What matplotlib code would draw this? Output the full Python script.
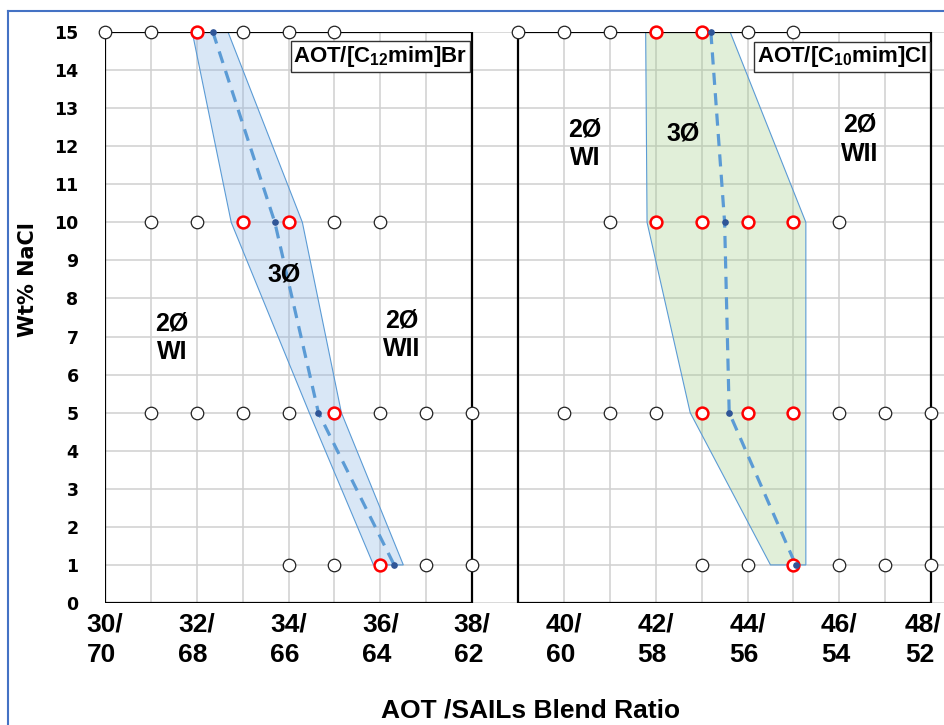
import matplotlib
matplotlib.use("Agg")
import matplotlib.pyplot as plt
import matplotlib.transforms as mtransforms
from matplotlib.patches import Polygon, Rectangle
from matplotlib.lines import Line2D

plt.rcParams['mathtext.fontset'] = 'custom'
plt.rcParams['mathtext.rm'] = 'Liberation Sans:bold'
plt.rcParams['mathtext.it'] = 'Liberation Sans:bold'
plt.rcParams['mathtext.bf'] = 'Liberation Sans:bold'
plt.rcParams['mathtext.default'] = 'rm'

# ---- data ----
x_ticks = list(range(30, 49))
x_ticklabels = ["30/\n70", "", "32/\n68", "", "34/\n66", "", "36/\n64", "", "38/\n62", "",
                "40/\n60", "", "42/\n58", "", "44/\n56", "", "46/\n54", "", "48/\n52"]
y_ticks = list(range(0, 16))

# AOT/[C12mim]Br panel
br_white_x = [30, 31, 33, 34, 35, 31, 32, 35, 36, 31, 32, 33, 34, 36, 37, 38, 34, 35, 37, 38]
br_white_y = [15, 15, 15, 15, 15, 10, 10, 10, 10, 5, 5, 5, 5, 5, 5, 5, 1, 1, 1, 1]
br_red_x = [32, 33, 34, 35, 36]
br_red_y = [15, 10, 10, 5, 1]
br_mid_x = [32.35, 33.7, 34.65, 36.3]
br_mid_y = [15, 10, 5, 1]
br_band_x = [31.9, 32.75, 34.45, 35.85, 36.5, 35.15, 34.3, 32.68]
br_band_y = [15, 10, 5, 1, 1, 5, 10, 15]

# AOT/[C10mim]Cl panel
cl_white_x = [39, 40, 41, 44, 45, 41, 46, 40, 41, 42, 46, 47, 48, 43, 44, 46, 47, 48]
cl_white_y = [15, 15, 15, 15, 15, 10, 10, 5, 5, 5, 5, 5, 5, 1, 1, 1, 1, 1]
cl_red_x = [42, 43, 42, 43, 44, 45, 43, 44, 45, 45]
cl_red_y = [15, 15, 10, 10, 10, 10, 5, 5, 5, 1]
cl_mid_x = [43.2, 43.5, 43.6, 45.05]
cl_mid_y = [15, 10, 5, 1]
cl_band_x = [41.78, 41.81, 42.75, 44.5, 45.27, 45.27, 43.62]
cl_band_y = [15, 10, 5, 1, 1, 10, 15]

fig = plt.figure(figsize=(9.44, 7.25), dpi=100)
ax = fig.add_axes([105/944, 1-603/725, (944-105)/944, (603-32)/725])
ax.set_xlim(30, 48.28)
ax.set_ylim(0, 15)

ax.set_xticks(x_ticks)
ax.set_xticklabels(x_ticklabels, fontfamily='Liberation Sans', fontweight='bold',
                   fontsize=19, linespacing=1.35, multialignment='left')
ax.set_yticks(y_ticks)
ax.set_yticklabels([str(v) for v in y_ticks], fontfamily='DejaVu Sans',
                   fontweight='bold', fontsize=12.5)
ax.tick_params(axis='x', length=0, pad=7)
ax.tick_params(axis='y', length=0, pad=19)
for s in ax.spines.values():
    s.set_visible(False)
ax.grid(True, color='#d0d0d0', linewidth=1.1)
ax.set_axisbelow(True)

# the last label sits a little to the left so it stays inside the picture
last = ax.get_xticklabels()[-1]
last.set_transform(last.get_transform() +
                   mtransforms.ScaledTranslation(-8/100, 0, fig.dpi_scale_trans))

# three-phase bands
ax.add_patch(Polygon(list(zip(br_band_x, br_band_y)), closed=True,
                     facecolor='#84b2e4', alpha=0.3, edgecolor='none', zorder=2))
ax.add_patch(Polygon(list(zip(br_band_x, br_band_y)), closed=True,
                     facecolor='none', edgecolor='#5b9bd5', linewidth=0.8, zorder=2))
ax.add_patch(Polygon(list(zip(cl_band_x, cl_band_y)), closed=True,
                     facecolor='#9eca84', alpha=0.3, edgecolor='none', zorder=2))
ax.add_patch(Polygon(list(zip(cl_band_x, cl_band_y)), closed=True,
                     facecolor='none', edgecolor='#5b9bd5', linewidth=0.8, zorder=2))

# panel frames
ax.add_patch(Rectangle((30, 0), 8, 15, fill=False, edgecolor='black', linewidth=1.6, zorder=3))
ax.add_patch(Rectangle((39, 0), 9, 15, fill=False, edgecolor='black', linewidth=1.6, zorder=3))

# mid lines
for mx, my in [(br_mid_x, br_mid_y), (cl_mid_x, cl_mid_y)]:
    ax.plot(mx, my, color='#5b9bd5', linewidth=2.3, dashes=(3.8, 2.6), zorder=4)

# markers
for wx, wy in [(br_white_x, br_white_y), (cl_white_x, cl_white_y)]:
    ax.plot(wx, wy, linestyle='none', marker='o', markersize=9, markerfacecolor='white',
            markeredgecolor='#222222', markeredgewidth=0.9, clip_on=False, zorder=5)
for rx, ry in [(br_red_x, br_red_y), (cl_red_x, cl_red_y)]:
    ax.plot(rx, ry, linestyle='none', marker='o', markersize=8.5, markerfacecolor='white',
            markeredgecolor='#ff0000', markeredgewidth=1.8, clip_on=False, zorder=5)
for mx, my in [(br_mid_x, br_mid_y), (cl_mid_x, cl_mid_y)]:
    ax.plot(mx, my, linestyle='none', marker='o', markersize=3.8, color='#2f5597',
            clip_on=False, zorder=6)

# phase labels
lab = dict(fontfamily='Liberation Sans', fontweight='bold', fontsize=18,
           ha='center', va='center', linespacing=1.25, zorder=7)
ax.text(31.46, 6.96, "2Ø\nWI", **lab)
ax.text(33.9, 8.62, "3Ø", **lab)
ax.text(36.46, 7.04, "2Ø\nWII", **lab)
ax.text(40.46, 12.06, "2Ø\nWI", **lab)
ax.text(42.6, 12.33, "3Ø", **lab)
ax.text(46.45, 12.18, "2Ø\nWII", **lab)

box = dict(boxstyle='square,pad=0.12', facecolor='white', edgecolor='#333333', linewidth=1.0)
ax.text(36.0, 14.36, r"AOT/[C$_{12}$mim]Br", fontfamily='Liberation Sans', fontweight='bold',
        fontsize=16, ha='center', va='center', bbox=box, zorder=7)
ax.text(46.06, 14.35, r"AOT/[C$_{10}$mim]Cl", fontfamily='Liberation Sans', fontweight='bold',
        fontsize=16, ha='center', va='center', bbox=box, zorder=7)

# axis titles
fig.text(28/944, 1-280/725, "Wt% NaCl", rotation=90, fontfamily='DejaVu Sans',
         fontweight='bold', fontsize=15, ha='center', va='center')
fig.text(531/944, 1-717/725, "AOT /SAILs Blend Ratio", fontfamily='Liberation Sans',
         fontweight='bold', fontsize=19, ha='center', va='baseline')

# blue outer frame (left and top edges visible)
fig.add_artist(Line2D([8/944, 8/944], [0, 1-11/725], color='#4472c4', linewidth=1.5))
fig.add_artist(Line2D([8/944, 1], [1-11/725, 1-11/725], color='#4472c4', linewidth=1.5))

fig.savefig("out.png", dpi=100)
